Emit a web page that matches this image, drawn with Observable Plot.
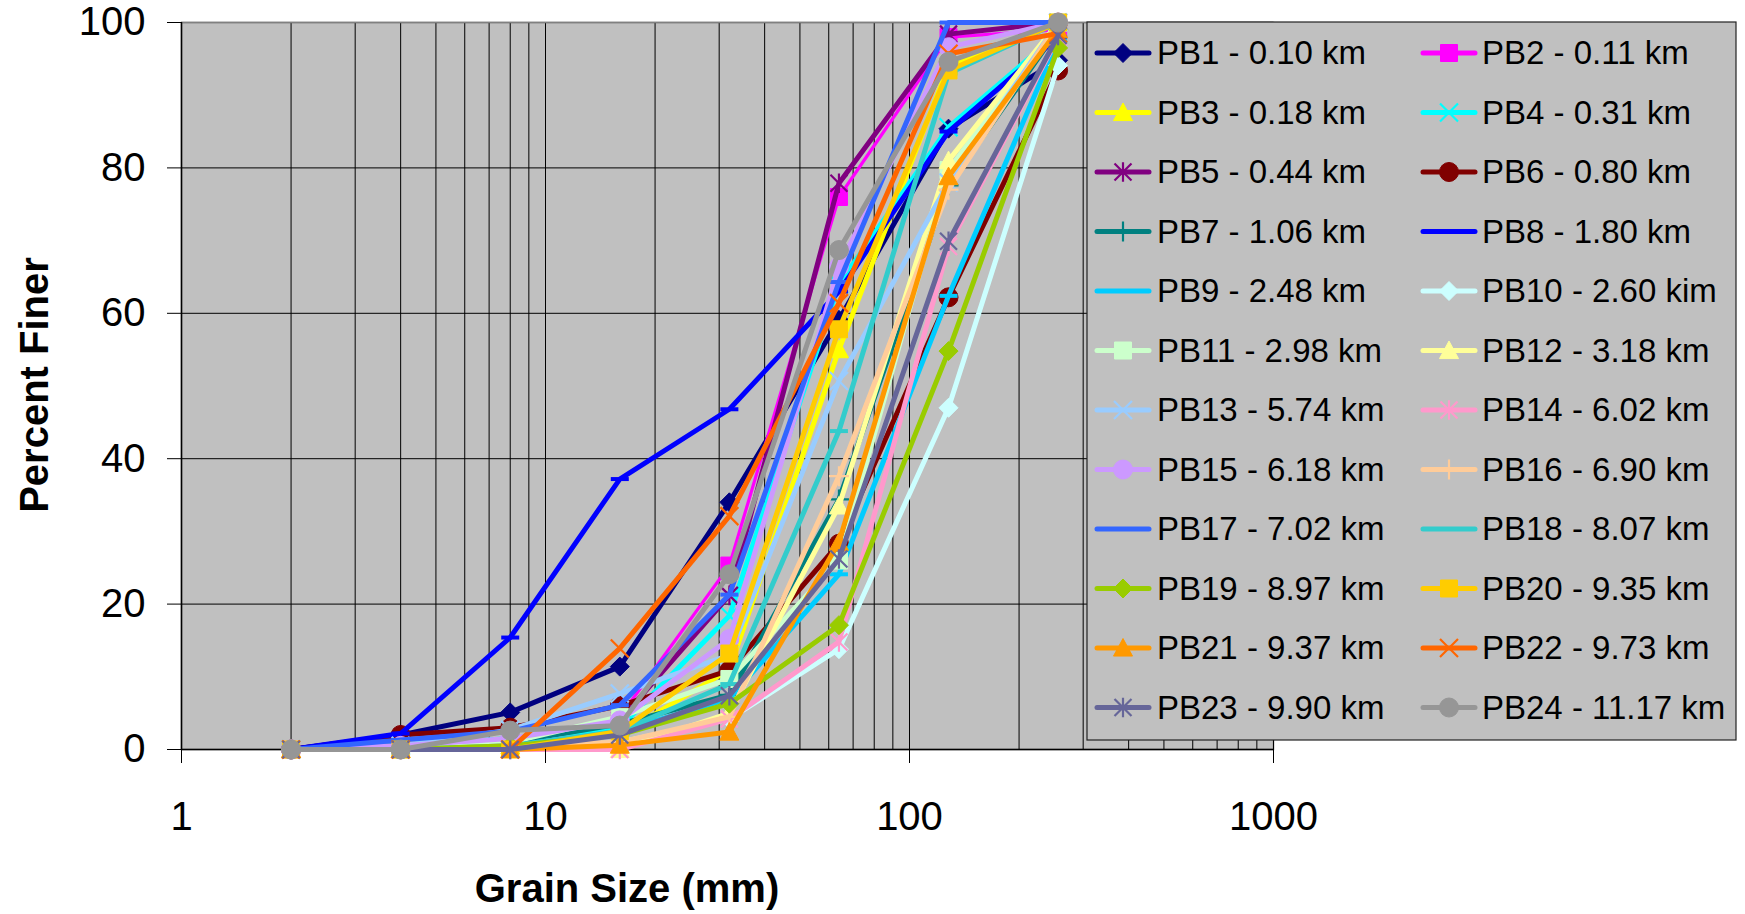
<!DOCTYPE html>
<html>
<head>
<meta charset="utf-8">
<script src="https://cdn.jsdelivr.net/npm/d3@7"></script>
<script src="https://cdn.jsdelivr.net/npm/@observablehq/plot@0.6"></script>
<style>
  html, body { margin: 0; padding: 0; background: #fff; }
  #chart svg { display: block; }
</style>
</head>
<body>
<div id="chart"></div>
<script>
// Sieve sizes (mm) and cumulative percent finer for each pebble-count site
const grainSizes = [2, 4, 8, 16, 32, 64, 128, 256];

const pb1  = [0, 2.0, 5.1, 11.4, 34.0, 59.1, 85.4, 94.8];
const pb2  = [0, 0.5, 1.0, 4.5, 25.3, 76.0, 98.0, 99.0];
const pb3  = [0, 0, 0.5, 2.0, 11.0, 55.0, 94.0, 100];
const pb4  = [0, 0.5, 1.5, 3.0, 18.4, 64.0, 85.6, 98.5];
const pb5  = [0, 0.5, 1.0, 4.0, 21.2, 77.9, 98.4, 100];
const pb6  = [0, 2.0, 3.0, 6.0, 10.9, 28.3, 62.2, 93.4];
const pb7  = [0, 0.5, 1.0, 3.5, 7.5, 34.4, 77.6, 99.0];
const pb8  = [0, 2.2, 15.4, 37.2, 46.8, 63.0, 85.0, 98.0];
const pb9  = [0, 0, 0.5, 2.5, 7.0, 24.1, 62.4, 97.5];
const pb10 = [0, 0, 0, 1.0, 4.2, 13.8, 47.0, 94.1];
const pb11 = [0, 0, 1.0, 4.5, 9.7, 26.0, 79.7, 100];
const pb12 = [0, 0, 0, 0, 5.0, 33.5, 81.0, 100];
const pb13 = [0, 0.5, 2.7, 7.7, 13.0, 50.7, 78.0, 100];
const pb14 = [0, 0, 0, 0, 4.2, 14.8, 69.2, 98.0];
const pb15 = [0, 0.5, 1.5, 4.0, 15.2, 66.4, 96.6, 100];
const pb16 = [0, 0, 0.5, 1.0, 4.5, 37.6, 77.0, 100];
const pb17 = [0, 1.3, 2.5, 6.1, 21.3, 64.3, 100, 100];
const pb18 = [0, 0, 0.5, 2.5, 9.0, 43.8, 93.0, 100];
const pb19 = [0, 0, 0.5, 2.0, 6.3, 17.1, 54.8, 96.5];
const pb20 = [0, 0, 0, 2.5, 13.2, 57.8, 93.4, 100];
const pb21 = [0, 0, 0, 0.6, 2.4, 28.5, 78.8, 99.0];
const pb22 = [0, 0, 0, 13.9, 32.1, 61.4, 95.7, 98.5];
const pb23 = [0, 0, 0, 2.0, 7.4, 26.2, 69.9, 98.2];
const pb24 = [0, 0, 2.6, 3.3, 24.1, 68.7, 94.6, 100];

const sampleNames = [
  "PB1 - 0.10 km", "PB2 - 0.11 km", "PB3 - 0.18 km", "PB4 - 0.31 km",
  "PB5 - 0.44 km", "PB6 - 0.80 km", "PB7 - 1.06 km", "PB8 - 1.80 km",
  "PB9 - 2.48 km", "PB10 - 2.60 kim", "PB11 - 2.98 km", "PB12 - 3.18 km",
  "PB13 - 5.74 km", "PB14 - 6.02 km", "PB15 - 6.18 km", "PB16 - 6.90 km",
  "PB17 - 7.02 km", "PB18 - 8.07 km", "PB19 - 8.97 km", "PB20 - 9.35 km",
  "PB21 - 9.37 km", "PB22 - 9.73 km", "PB23 - 9.90 km", "PB24 - 11.17 km"
];
const sampleValues = [pb1, pb2, pb3, pb4, pb5, pb6, pb7, pb8, pb9, pb10, pb11, pb12,
                      pb13, pb14, pb15, pb16, pb17, pb18, pb19, pb20, pb21, pb22, pb23, pb24];

const yTicks = [0, 20, 40, 60, 80, 100];
const xTicks = [1, 10, 100, 1000];

// Styling per series
const seriesColors = [
  "#000080", "#FF00FF", "#FFFF00", "#00FFFF", "#800080", "#800000",
  "#008080", "#0000FF", "#00CCFF", "#CCFFFF", "#CCFFCC", "#FFFF99",
  "#99CCFF", "#FF99CC", "#CC99FF", "#FFCC99", "#3366FF", "#33CCCC",
  "#99CC00", "#FFCC00", "#FF9900", "#FF6600", "#666699", "#969696"
];
const seriesMarkers = [
  "diamond", "square", "triangle", "x", "star", "circle",
  "plus", "dash", "dash", "diamond", "square", "triangle",
  "x", "star", "circle", "plus", "dash", "dash",
  "diamond", "square", "triangle", "x", "star", "circle"
];

// Spreadsheet-style marker shapes (size arrives as pi*r^2)
const rad = s => Math.sqrt(s / Math.PI);
const markerShapes = {
  diamond: { draw(c, s) { const r = rad(s); c.moveTo(0, -r); c.lineTo(r, 0); c.lineTo(0, r); c.lineTo(-r, 0); c.closePath(); } },
  square: { draw(c, s) { const r = rad(s); c.rect(-r, -r, 2 * r, 2 * r); } },
  triangle: { draw(c, s) { const r = rad(s); c.moveTo(0, -r); c.lineTo(r, r * 0.85); c.lineTo(-r, r * 0.85); c.closePath(); } },
  circle: { draw(c, s) { const r = rad(s); c.moveTo(r, 0); c.arc(0, 0, r, 0, 2 * Math.PI); } },
  x: { draw(c, s) { const r = rad(s); c.moveTo(-r, -r); c.lineTo(r, r); c.moveTo(-r, r); c.lineTo(r, -r); } },
  star: { draw(c, s) { const r = rad(s); c.moveTo(-r, -r); c.lineTo(r, r); c.moveTo(-r, r); c.lineTo(r, -r); c.moveTo(0, -r * 1.15); c.lineTo(0, r * 1.15); } },
  plus: { draw(c, s) { const r = rad(s); c.moveTo(-r, 0); c.lineTo(r, 0); c.moveTo(0, -r); c.lineTo(0, r); } },
  dash: { draw(c, s) { const r = rad(s); c.moveTo(-r, 0); c.lineTo(r, 0); } }
};
const markerStyle = {
  diamond: { r: 9.5, filled: true },
  square: { r: 8.5, filled: true },
  triangle: { r: 9.5, filled: true },
  circle: { r: 9.5, filled: true },
  x: { r: 9, filled: false, width: 2.2 },
  star: { r: 8.5, filled: false, width: 2.2 },
  plus: { r: 10, filled: false, width: 2.2 },
  dash: { r: 9, filled: false, width: 4 }
};
const lineWidth = i => (i === 1 ? 3.2 : 5);

const W = 1745, H = 914;
const plotLeft = 181, plotRight = 1273, plotTop = 22, plotBottom = 749;
const font = "'Liberation Sans', Arial, Helvetica, sans-serif";

// Minor log grid: 1..9 in each decade
const logGrid = [];
for (const d of [1, 10, 100]) for (let k = 1; k < 10; k++) logGrid.push(k * d);
logGrid.push(1000);

const seriesMarks = [];
sampleValues.forEach((vals, i) => {
  const rows = grainSizes.map((g, j) => ({ size: g, finer: vals[j] }));
  const m = seriesMarkers[i], st = markerStyle[m], col = seriesColors[i];
  seriesMarks.push(Plot.line(rows, { x: "size", y: "finer", stroke: col, strokeWidth: lineWidth(i), strokeLinejoin: "round" }));
  seriesMarks.push(Plot.dot(rows, {
    x: "size", y: "finer", symbol: markerShapes[m], r: st.r,
    fill: st.filled ? col : "none", stroke: col,
    strokeWidth: st.filled ? 1 : st.width
  }));
});

const chart = Plot.plot({
  width: W, height: H,
  marginLeft: plotLeft, marginRight: W - plotRight, marginTop: plotTop, marginBottom: H - plotBottom,
  style: { fontFamily: font, background: "#fff", color: "#000", overflow: "visible" },
  x: { type: "log", domain: [1, 1000] },
  y: { domain: [0, 100] },
  marks: [
    Plot.frame({ fill: "#C0C0C0", stroke: "#808080", strokeWidth: 1.5 }),
    Plot.ruleX(logGrid, { stroke: "#000", strokeWidth: 1 }),
    Plot.ruleY(yTicks.slice(1, -1), { stroke: "#000", strokeWidth: 1 }),
    Plot.ruleY([100], { stroke: "#808080", strokeWidth: 1.5 }),
    Plot.ruleX([1], { stroke: "#000", strokeWidth: 1.5 }),
    Plot.ruleY([0], { stroke: "#000", strokeWidth: 1.5 }),
    ...seriesMarks,
    Plot.axisY({ ticks: yTicks, tickSize: 14, tickPadding: 22, fontSize: 40, label: null, tickFormat: d => String(d), stroke: "#000" }),
    Plot.axisX({ ticks: xTicks, tickSize: 14, tickPadding: 38, fontSize: 40, label: null, tickFormat: d => String(d), stroke: "#000" })
  ]
});

document.getElementById("chart").appendChild(chart);

const svg = d3.select(chart);

// Axis titles
svg.append("text")
  .attr("x", 627).attr("y", 902)
  .attr("text-anchor", "middle")
  .attr("font-family", font).attr("font-weight", "bold").attr("font-size", 40)
  .attr("fill", "#000")
  .text("Grain Size (mm)");
svg.append("text")
  .attr("transform", "translate(48,385) rotate(-90)")
  .attr("text-anchor", "middle")
  .attr("font-family", font).attr("font-weight", "bold").attr("font-size", 40)
  .attr("fill", "#000")
  .text("Percent Finer");

// Legend: two columns of line + marker samples
const leg = svg.append("g").attr("text-anchor", "start");
leg.append("rect")
  .attr("x", 1087).attr("y", 22).attr("width", 649).attr("height", 718)
  .attr("fill", "#C0C0C0").attr("stroke", "#222").attr("stroke-width", 1.2);
sampleNames.forEach((name, i) => {
  const colIdx = i % 2, row = Math.floor(i / 2);
  const cx = colIdx ? 1449 : 1123;
  const y = 53 + 59.5 * row;
  const col = seriesColors[i], m = seriesMarkers[i], st = markerStyle[m];
  leg.append("line")
    .attr("x1", cx - 26).attr("x2", cx + 26).attr("y1", y).attr("y2", y)
    .attr("stroke", col).attr("stroke-width", 5).attr("stroke-linecap", "round");
  leg.append("path")
    .attr("transform", `translate(${cx},${y})`)
    .attr("d", d3.symbol(markerShapes[m], Math.PI * st.r * st.r)())
    .attr("fill", st.filled ? col : "none")
    .attr("stroke", col)
    .attr("stroke-width", st.filled ? 1 : st.width);
  leg.append("text")
    .attr("x", colIdx ? 1482 : 1157).attr("y", y + 11)
    .attr("text-anchor", "start")
    .attr("font-family", font).attr("font-size", 33).attr("fill", "#000")
    .text(name);
});
</script>
</body>
</html>
